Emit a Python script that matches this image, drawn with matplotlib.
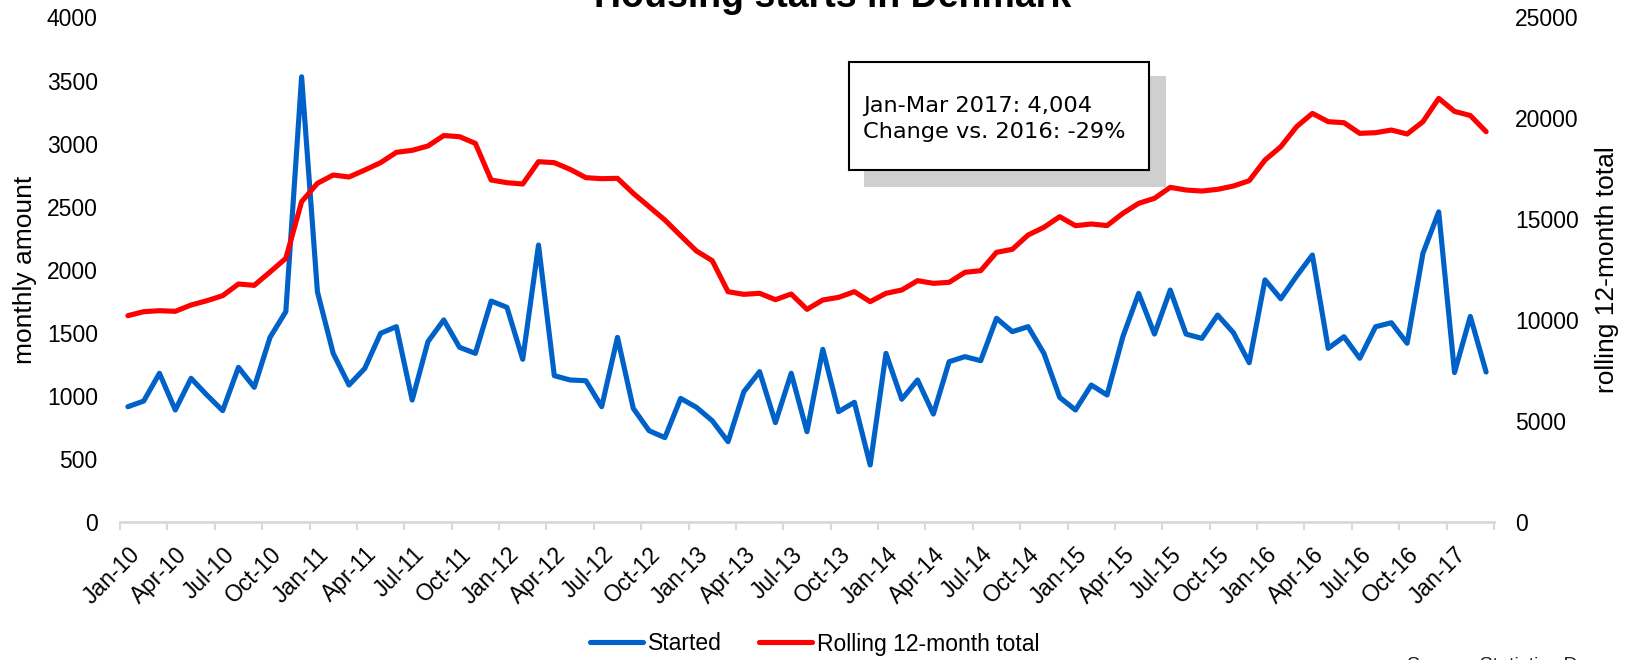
import matplotlib
matplotlib.use("Agg")
import matplotlib.pyplot as plt
from matplotlib.patches import Rectangle
import numpy as np
import pandas as pd

# monthly housing starts, Jan 2010 - Mar 2017
started = [914, 959, 1179, 888, 1139, 1007, 883, 1226, 1068, 1464, 1668,
           3530, 1826, 1337, 1086, 1218, 1496, 1549, 967, 1430, 1602,
           1385, 1337, 1752, 1702, 1290, 2196, 1160, 1126, 1120, 914,
           1464, 901, 724, 669, 980, 909, 803, 637, 1033, 1192,
           788, 1179, 716, 1369, 875, 949, 452, 1337, 973, 1126,
           856, 1271, 1311, 1279, 1615, 1509, 1549, 1337, 988, 888,
           1086, 1007, 1469, 1813, 1490, 1839, 1490, 1456, 1641, 1501,
           1263, 1920, 1770, 1950, 2117, 1377, 1469, 1298, 1548, 1580,
           1417, 2130, 2459, 1185, 1630, 1189]

# rolling 12-month total (secondary axis)
rolling = [10224, 10422, 10471, 10440, 10753, 10966, 11215, 11794, 11727, 12389, 13065,
           15872, 16782, 17195, 17096, 17443, 17806, 18318, 18418, 18633, 19150,
           19094, 18763, 16947, 16814, 16749, 17855, 17806, 17476, 17063, 17013,
           17030, 16287, 15626, 14965, 14188, 13430, 12950, 11412, 11282, 11333,
           11017, 11298, 10538, 11001, 11133, 11414, 10918, 11331, 11496, 11959,
           11827, 11876, 12372, 12455, 13363, 13512, 14222, 14601, 15131, 14683,
           14767, 14690, 15295, 15790, 16039, 16583, 16451, 16401, 16484, 16649,
           16913, 17937, 18598, 19589, 20249, 19837, 19787, 19259, 19292, 19424,
           19226, 19837, 20993, 20348, 20143, 19342]

months = pd.date_range("2010-01-01", periods=len(started), freq="MS").strftime("%b-%y").tolist()
left_ticks = list(range(0, 4001, 500))
right_ticks = list(range(0, 25001, 5000))

BLUE = "#0062C8"
RED = "#FF0000"
AXIS_GREY = "#D9D9D9"

W, H = 1629, 660
plt.rcParams["font.family"] = ["Liberation Sans", "DejaVu Sans"]
fig = plt.figure(figsize=(W / 100, H / 100), dpi=100)

ax = fig.add_axes([120 / W, 1 - 522 / H, 1374 / W, 504.5 / H])
x = np.arange(len(started))
l1, = ax.plot(x, started, color=BLUE, lw=3.7, solid_capstyle="round", solid_joinstyle="round")

ax2 = ax.twinx()
l2, = ax2.plot(x, rolling, color=RED, lw=3.7, solid_capstyle="round", solid_joinstyle="round")

ax.set_xlim(-0.5, len(started) - 0.5)
ax.set_ylim(0, 4000)
ax2.set_ylim(0, 25000)
ax.set_yticks(left_ticks)
ax2.set_yticks(right_ticks)

for a in (ax, ax2):
    for s in a.spines.values():
        s.set_visible(False)
ax.spines["bottom"].set_visible(True)
ax.spines["bottom"].set_color(AXIS_GREY)
ax.spines["bottom"].set_linewidth(2)

ax.tick_params(axis="y", length=0, pad=16, labelsize=16.5)
ax2.tick_params(axis="y", length=0, pad=15, labelsize=16.5)

ax.set_xticks(x[::3])
ax.set_xticklabels(months[::3], rotation=45, ha="right", rotation_mode="anchor")
ax.tick_params(axis="x", which="major", length=0, pad=15, labelsize=16.5)
ax.set_xticks(np.arange(-0.5, len(started), 3), minor=True)
ax.tick_params(axis="x", which="minor", length=6, width=1.5, color=AXIS_GREY)

ax.set_ylabel("monthly amount", fontsize=19)
ax.yaxis.set_label_coords((37 - 120) / 1374, 0.5)
ax2.set_ylabel("rolling 12-month total", fontsize=19)
ax2.yaxis.set_label_coords((1595 - 120) / 1374, 0.5)

fig.text(833 / W, 1 - 7 / H, "Housing starts in Denmark", ha="center", va="baseline",
         fontsize=27, fontweight="bold")

fig.legend([l1, l2], ["Started", "Rolling 12-month total"], loc="center",
           bbox_to_anchor=(815 / W, 1 - 644 / H), ncol=2, frameon=False, fontsize=16.5,
           handlelength=2.3, handletextpad=0.25, columnspacing=1.6)

# note box with drop shadow
fig.add_artist(Rectangle((864 / W, 1 - 187 / H), 302 / W, 111 / H, transform=fig.transFigure,
                         facecolor="#CFCFCF", edgecolor="none", zorder=5))
fig.add_artist(Rectangle((849 / W, 1 - 170 / H), 300 / W, 108 / H, transform=fig.transFigure,
                         facecolor="white", edgecolor="black", lw=1.5, zorder=6))
fig.text(863 / W, 1 - 111.7 / H, "Jan-Mar 2017: 4,004", family="DejaVu Sans", fontsize=16.2,
         va="baseline", zorder=7)
fig.text(863 / W, 1 - 138 / H, "Change vs. 2016: -29%", family="DejaVu Sans", fontsize=16.2,
         va="baseline", zorder=7)

fig.text(1407 / W, 1 - 670 / H, "Source: Statistics Denmark", fontsize=14, color="#222222",
         va="baseline")

fig.savefig("out.png", dpi=100)
